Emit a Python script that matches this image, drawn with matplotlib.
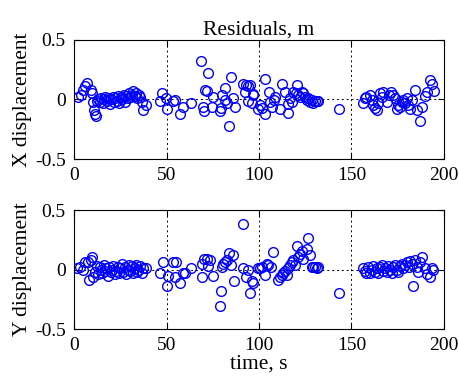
import matplotlib
matplotlib.use("Agg")
import matplotlib.pyplot as plt

# ---------------------------------------------------
# data (time in s, residual in m)
# ---------------------------------------------------
tx = [2.3, 3.6, 5.0, 5.9, 6.8, 9.2, 9.5, 10.1, 11.0, 11.4, 11.9,
      12.5, 13.2, 14.0, 14.8, 15.5, 16.2, 17.0, 17.8, 18.5, 19.3, 20.0, 20.8,
      21.5, 22.3, 23.0, 23.8, 24.5, 25.2, 26.0, 26.8, 27.5, 28.3, 29.0, 29.8,
      30.5, 31.3, 32.0, 32.8, 33.5, 34.3, 35.0, 35.8, 36.5, 37.5, 38.9,
      46.5, 47.4, 49.6, 50.0, 53.7, 54.6, 57.3, 59.1, 63.1,
      68.6, 69.9, 70.3, 70.8, 71.7, 72.6, 74.4, 75.0, 78.9, 79.3, 80.2, 81.4,
      81.6, 82.5, 84.0, 85.0, 86.0, 87.0, 91.2, 92.4, 93.0, 94.2, 94.2, 95.0,
      96.0, 96.6, 97.0, 99.6, 100.5, 101.4, 103.2, 103.2, 105.4, 105.9, 107.3,
      108.0, 108.6, 111.3, 112.2, 114.0, 115.9, 115.9, 116.8, 117.7, 118.6,
      120.0, 120.4, 121.3, 122.2, 123.0, 124.0, 124.9, 125.8, 126.7, 127.6,
      128.5, 129.4, 130.3, 131.2, 132.1, 143.2,
      156.3, 157.2, 158.1, 160.0, 160.9, 161.8, 162.7, 163.6, 164.5, 165.7,
      166.3, 167.2, 169.0, 170.4, 171.2, 172.3, 173.5, 174.4, 175.3, 176.2,
      177.1, 178.0, 178.9, 179.8, 180.7, 181.6, 182.5, 184.3, 185.2, 187.0,
      188.4, 189.7, 190.6, 192.4, 193.3, 194.6]
rx = [0.02, 0.04, 0.08, 0.11, 0.14, 0.08, 0.05, -0.02, -0.09, -0.12, -0.14,
      -0.01, 0.0, -0.02, 0.01, -0.03, 0.0, 0.02, -0.01, 0.01, -0.04, 0.0, 0.02,
      -0.02, 0.01, -0.01, 0.03, -0.03, 0.02, 0.0, 0.04, -0.02, 0.03, 0.01, 0.05,
      0.02, 0.04, 0.07, 0.03, 0.05, 0.01, 0.04, 0.02, -0.02, -0.09, -0.05,
      -0.01, 0.05, 0.01, -0.08, -0.01, -0.005, -0.12, -0.06, -0.03,
      0.32, -0.06, -0.10, 0.08, 0.07, 0.22, -0.06, 0.02, -0.10, -0.07, 0.04,
      0.10, -0.005, -0.03, -0.22, 0.19, 0.01, -0.06, 0.13, 0.06, 0.12, 0.11,
      -0.01, 0.12, -0.03, 0.045, 0.04, -0.08, -0.05, -0.07, -0.12, 0.17, 0.06,
      -0.02, -0.06, -0.005, 0.02, -0.08, 0.13, 0.06, -0.11, -0.04, 0.01, -0.02,
      0.06, 0.05, 0.12, 0.04, 0.02, 0.06, 0.05, 0.02, -0.005, 0.01, -0.02,
      -0.005, -0.03, -0.01, -0.01, -0.01, -0.08,
      -0.03, 0.01, 0.02, 0.04, -0.005, -0.05, -0.075, -0.09, -0.03, 0.05,
      0.02, 0.065, -0.02, 0.035, 0.065, 0.035, 0.01, -0.08, -0.05, -0.06,
      -0.02, -0.005, -0.03, 0.01, -0.05, -0.08, -0.005, 0.08, -0.09, -0.18,
      -0.06, 0.03, 0.065, 0.16, 0.13, 0.07]

ty = [1.4, 3.2, 5.0, 5.9, 7.7, 8.3, 9.0, 9.5, 10.5,
      11.5, 12.3, 13.0, 13.8, 14.5, 15.3, 16.0, 16.8, 17.5, 18.3, 19.0, 19.8,
      20.5, 21.3, 22.0, 22.8, 23.5, 24.3, 25.0, 25.8, 26.7, 27.5, 28.3, 29.0,
      29.8, 30.5, 31.3, 32.0, 32.8, 33.5, 34.3, 34.8, 35.8, 36.5, 37.3, 38.9,
      46.5, 47.9, 50.0, 51.0, 53.3, 54.6, 55.1, 57.3, 58.7, 60.0, 63.2,
      69.0, 69.0, 70.3, 71.7, 72.6, 73.5, 75.0, 78.9, 79.3, 79.8, 80.7, 81.6,
      82.5, 84.0, 84.7, 85.8, 86.5, 91.2, 91.5, 93.0, 94.2, 95.1, 96.0, 96.6,
      99.6, 100.5, 101.9, 103.2, 104.1, 105.0, 106.3, 107.4, 110.4, 111.3,
      112.2, 113.1, 114.0, 114.9, 115.8, 116.8, 117.7, 118.6, 119.5, 120.4,
      121.3, 122.2, 123.0, 123.6, 125.8, 126.7, 127.6, 128.5, 129.4, 130.3,
      131.2, 132.0, 143.2,
      156.3, 157.2, 158.1, 159.0, 160.0, 160.9, 161.8, 162.7, 163.6, 164.5,
      165.4, 166.3, 167.2, 168.1, 169.0, 170.0, 170.9, 171.8, 172.7, 173.6,
      174.5, 175.4, 176.3, 177.2, 178.1, 179.0, 180.0, 180.9, 181.8, 182.7,
      183.4, 184.5, 185.4, 186.0, 187.2, 188.4, 189.7, 191.0, 192.4, 193.3,
      194.2]
ry = [0.01, 0.02, -0.005, 0.065, 0.065, -0.09, 0.08, 0.11, -0.06,
      -0.02, 0.03, -0.04, 0.02, 0.0, -0.03, 0.04, -0.01, 0.01, -0.05, 0.02,
      -0.02, 0.0, 0.03, -0.04, -0.01, 0.02, -0.03, 0.01, 0.05, -0.02, 0.02,
      -0.04, 0.0, 0.04, -0.01, 0.03, -0.03, 0.01, 0.04, -0.02, 0.0, 0.03,
      -0.03, 0.01, 0.01,
      -0.03, 0.065, -0.14, -0.055, 0.065, -0.065, 0.065, -0.11, -0.03, -0.03,
      0.01,
      -0.065, 0.05, 0.085, 0.085, 0.03, 0.08, -0.05, -0.31, -0.18, 0.025, 0.05,
      0.065, 0.08, 0.14, 0.04, 0.12, -0.095, 0.38, 0.01, -0.065, -0.005, -0.2,
      -0.1, -0.11, 0.01, 0.01, 0.025, -0.045, 0.05, 0.04, 0.025, 0.15, -0.09,
      -0.06, -0.045, -0.03, -0.01, -0.045, 0.01, 0.04, 0.065, 0.08, 0.04, 0.2,
      0.11, 0.135, 0.16, 0.09, 0.175, 0.27, 0.12, 0.025, 0.02, 0.02, 0.015,
      0.02, -0.2,
      0.01, -0.01, -0.025, 0.02, -0.03, 0.0, 0.03, -0.02, 0.01, -0.03,
      0.02, 0.04, -0.01, 0.01, -0.02, 0.03, 0.0, -0.03, 0.02, 0.04,
      0.0, -0.02, 0.03, 0.05, 0.01, 0.04, 0.06, 0.02, 0.07, 0.05,
      -0.14, 0.08, 0.02, -0.02, 0.06, 0.11, 0.01, -0.04, -0.065, 0.01,
      0.0]

plt.rcParams["font.family"] = ["Liberation Serif", "DejaVu Serif"]
plt.rcParams["font.size"] = 14

fig = plt.figure(figsize=(4.6, 3.76), dpi=100)
ax1 = fig.add_axes([0.161, 0.577, 0.804, 0.317])
ax2 = fig.add_axes([0.161, 0.125, 0.804, 0.316])

for ax, t, r, lab in [(ax1, tx, rx, "X displacement"), (ax2, ty, ry, "Y displacement")]:
    ax.plot(t, r, "o", mfc="none", mec="blue", ms=7, mew=1.0, ls="none")
    ax.set_xlim(0, 200)
    ax.set_ylim(-0.5, 0.5)
    ax.set_xticks([0, 50, 100, 150, 200])
    ax.set_yticks([-0.5, 0, 0.5])
    ax.set_yticklabels(["-0.5", "0", "0.5"])
    ax.grid(True, color="black", ls=(0, (2, 3)), lw=0.7)
    ax.set_axisbelow(True)
    ax.tick_params(direction="in", top=True, right=True, length=4,
                   labelsize=14, pad=6)
    ax.set_ylabel(lab, fontsize=15.5, labelpad=2)
    for s in ax.spines.values():
        s.set_linewidth(0.8)

ax1.set_title("Residuals, m", fontsize=15.5, pad=4)
ax2.set_xlabel("time, s", fontsize=15.5, labelpad=0)

fig.savefig("out.png", dpi=100)
